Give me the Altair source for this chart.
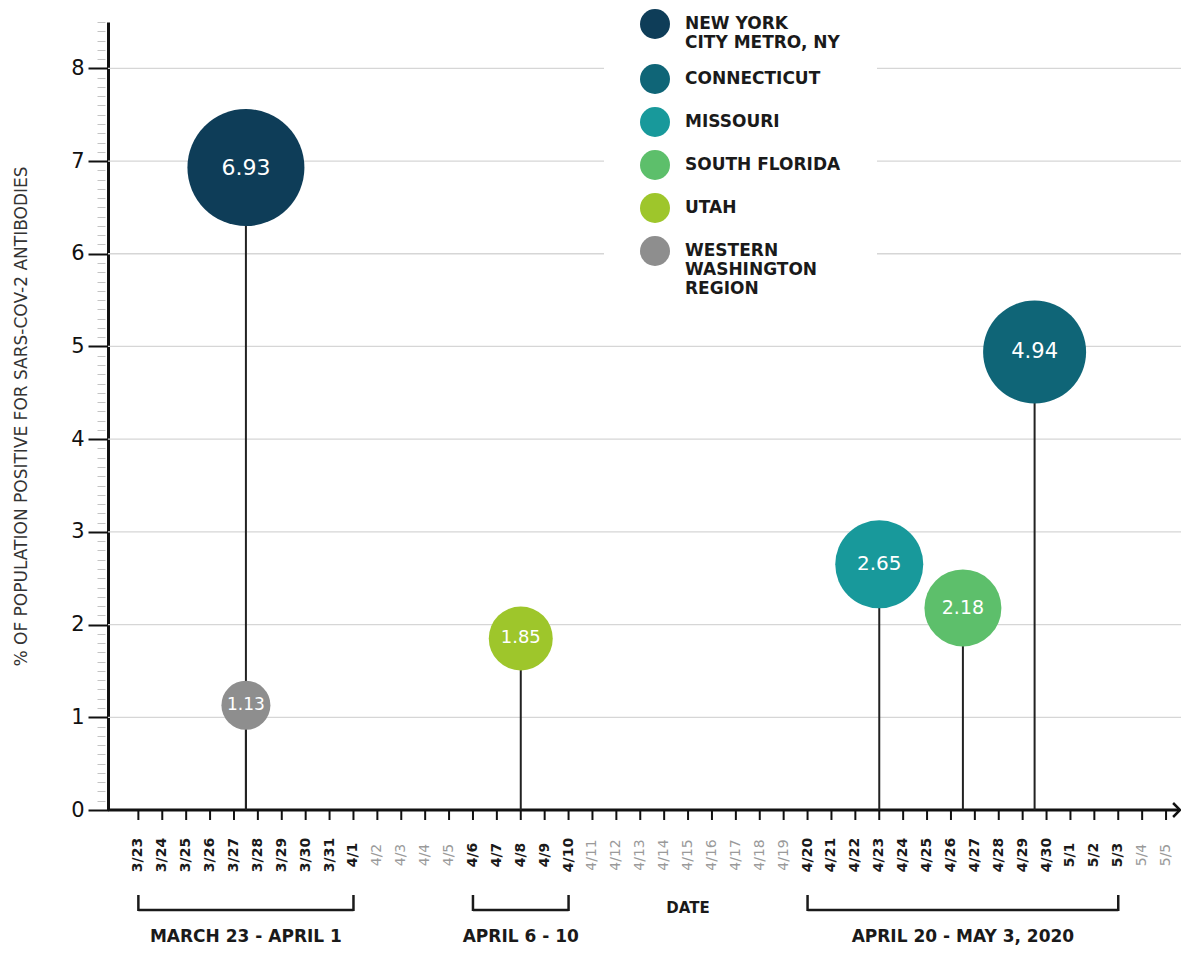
import altair as alt
import pandas as pd

# ---------------- data ----------------
regions = ["NEW YORK\nCITY METRO, NY", "CONNECTICUT", "MISSOURI",
           "SOUTH FLORIDA", "UTAH", "WESTERN\nWASHINGTON\nREGION"]
values = [6.93, 4.94, 2.65, 2.18, 1.85, 1.13]
sample_dates = ["2020-03-27T12:00:00Z", "2020-04-29T12:00:00Z", "2020-04-23T00:00:00Z",
                "2020-04-26T12:00:00Z", "2020-04-08T00:00:00Z", "2020-03-27T12:00:00Z"]
colors = ["#0e3d58", "#0f6577", "#18999b", "#5dbf6b", "#9ec62b", "#8e8e8e"]

bracket_start = ["2020-03-23T00:00:00Z", "2020-04-06T00:00:00Z", "2020-04-20T00:00:00Z"]
bracket_end = ["2020-04-01T00:00:00Z", "2020-04-10T00:00:00Z", "2020-05-03T00:00:00Z"]
bracket_labels = ["MARCH 23 - APRIL 1", "APRIL 6 - 10", "APRIL 20 - MAY 3, 2020"]

y_ticks = [0, 1, 2, 3, 4, 5, 6, 7, 8]
grid_values = [1, 2, 3, 4, 5, 6, 7, 8]
first_day = "2020-03-23"
last_day = "2020-05-05"
x_domain = ["2020-03-21T17:30:00Z", "2020-05-05T12:00:00Z"]
x_title = "DATE"
x_title_date = "2020-04-15T00:00:00Z"
y_title = "% OF POPULATION POSITIVE FOR SARS-COV-2 ANTIBODIES"

FONT = "DejaVu Sans"
W, H = 1070, 788
INK = "#1a1a1a"


def ms(s):
    return int(pd.Timestamp(s).value // 10**6)


day_list = [d.strftime("%Y-%m-%dT00:00:00Z") for d in pd.date_range(first_day, last_day, freq="D")]
minor_ticks = [round(i / 10, 1) for i in range(0, 86) if i % 10 != 0]

df = pd.DataFrame({"region": regions, "value": values, "date": sample_dates})
grid_df = pd.DataFrame({"g": grid_values})
days_df = pd.DataFrame({"date": day_list})
br_df = pd.DataFrame({"start": bracket_start, "end": bracket_end, "label": bracket_labels})
title_df = pd.DataFrame({"label": [x_title], "date": [x_title_date]})

x_scale = alt.Scale(type="utc", domain=[ms(x_domain[0]), ms(x_domain[1])])
y_scale = alt.Scale(domain=[0, 8.5], nice=False, zero=True)

in_window = " || ".join(
    f"(toNumber(toDate(datum.date)) >= {ms(s)} && toNumber(toDate(datum.date)) <= {ms(e)})"
    for s, e in zip(bracket_start, bracket_end)
)


def X(field):
    return alt.X(field, scale=x_scale, axis=None)


def Y(field):
    return alt.Y(field, scale=y_scale, axis=None)


y_axis = alt.Axis(
    values=y_ticks,
    format="d",
    orient="left",
    title=y_title,
    titleFont=FONT,
    titleFontSize=17,
    titleFontWeight="normal",
    titleColor="#333333",
    titlePadding=40,
    labelFont=FONT,
    labelFontSize=21,
    labelFontWeight="normal",
    labelColor="#111111",
    labelPadding=4,
    tickSize=20,
    tickWidth=2,
    tickColor="#111111",
    domainColor="#111111",
    domainWidth=3,
    grid=False,
)

minor_axis = alt.Axis(
    values=minor_ticks,
    orient="left",
    labels=False,
    domain=False,
    grid=False,
    tickSize=8,
    tickWidth=1,
    tickColor="#c4c4c4",
    offset=3,
    title=None,
)

grid = alt.Chart(grid_df).mark_rule(color="#d6d6d6", strokeWidth=1.3).encode(
    x=alt.value(0),
    x2=alt.X2(datum=ms(last_day + "T00:00:00Z")),
    y=alt.Y("g:Q", scale=y_scale, axis=minor_axis),
)

# x axis drawn from the day list
x_line = alt.Chart(grid_df.head(1)).mark_rule(color="#111111", strokeWidth=3).encode(
    x=alt.value(0),
    x2=alt.value(W + 1),
    y=alt.Y(datum=0, scale=y_scale, axis=None),
)
arrow = alt.Chart(grid_df.head(1)).mark_point(
    shape="M -0.7 -1 L 0.3 0 L -0.7 1", filled=False, stroke="#111111",
    strokeWidth=2.5, size=196, opacity=1
).encode(
    x=alt.value(W),
    y=alt.Y(datum=0, scale=y_scale, axis=None),
)
x_ticks = alt.Chart(days_df).mark_rule(color="#111111", strokeWidth=2).encode(
    x=X("date:T"),
    y=alt.value(H),
    y2=alt.value(H + 10),
)
LABEL_Y = H + 45  # centre of the rotated day labels
x_labels_on = alt.Chart(days_df).transform_filter(in_window).transform_calculate(
    lab="utcFormat(toDate(datum.date), '%-m/%-d')"
).mark_text(
    angle=270, align="center", baseline="middle", font=FONT, fontSize=14,
    fontWeight="bold", color=INK
).encode(x=X("date:T"), y=alt.value(LABEL_Y), text="lab:N")
x_labels_off = alt.Chart(days_df).transform_filter(f"!({in_window})").transform_calculate(
    lab="utcFormat(toDate(datum.date), '%-m/%-d')"
).mark_text(
    angle=270, align="center", baseline="middle", font=FONT, fontSize=14,
    fontWeight="normal", color="#9a9a9a"
).encode(x=X("date:T"), y=alt.value(LABEL_Y), text="lab:N")

stems = alt.Chart(df).mark_rule(color="#222222", strokeWidth=2).encode(
    x=X("date:T"),
    y=alt.Y("value:Q", scale=y_scale, axis=y_axis),
    y2=alt.Y2(datum=0),
)

bubbles = alt.Chart(df).transform_window(
    rank="rank()", sort=[alt.SortField("value", order="ascending")]
).mark_circle(opacity=1).encode(
    x=X("date:T"),
    y=Y("value:Q"),
    color=alt.Color(
        "region:N",
        scale=alt.Scale(domain=regions, range=colors),
        legend=alt.Legend(
            title=None,
            orient="none",
            legendX=496,
            legendY=-49,
            fillColor="white",
            padding=36,
            symbolSize=900,
            symbolType="circle",
            symbolStrokeWidth=0,
            symbolOpacity=1,
            labelFont=FONT,
            labelFontSize=17,
            labelFontWeight="bold",
            labelColor=INK,
            labelOffset=15,
            rowPadding=13,
            labelLimit=400,
            labelExpr="split(datum.label, '\\n')",
        ),
    ),
    size=alt.Size(
        "rank:Q",
        scale=alt.Scale(domain=[1, 2, 3, 4, 5, 6], range=[2401, 4096, 5929, 7744, 10609, 13689]),
        legend=None,
    ),
)

labels = alt.Chart(df).transform_window(
    rank="rank()", sort=[alt.SortField("value", order="ascending")]
).mark_text(color="white", font=FONT, align="center", baseline="middle").encode(
    x=X("date:T"),
    y=Y("value:Q"),
    text=alt.Text("value:Q", format=".2f"),
    size=alt.Size("rank:Q", scale=alt.Scale(domain=[1, 6], range=[17, 22]), legend=None),
)

br_line = alt.Chart(br_df).mark_rule(color=INK, strokeWidth=2.5).encode(
    x=X("start:T"),
    x2="end:T",
    y=alt.value(H + 100),
)
br_cap_l = alt.Chart(br_df).mark_rule(color=INK, strokeWidth=2.5).encode(
    x=X("start:T"),
    y=alt.value(H + 85),
    y2=alt.value(H + 101),
)
br_cap_r = alt.Chart(br_df).mark_rule(color=INK, strokeWidth=2.5).encode(
    x=X("end:T"),
    y=alt.value(H + 85),
    y2=alt.value(H + 101),
)
br_text = alt.Chart(br_df).transform_calculate(
    mid="(toNumber(toDate(datum.start)) + toNumber(toDate(datum.end))) / 2"
).mark_text(font=FONT, fontSize=17, fontWeight="bold", color=INK,
            align="center", baseline="middle").encode(
    x=X("mid:T"),
    y=alt.value(H + 127),
    text="label:N",
)
date_title = alt.Chart(title_df).mark_text(
    font=FONT, fontSize=15, fontWeight="bold", color=INK, align="center", baseline="middle"
).encode(
    x=X("date:T"),
    y=alt.value(H + 98),
    text="label:N",
)

chart = alt.layer(
    grid, x_line, x_ticks, x_labels_on, x_labels_off, arrow, stems, bubbles, labels,
    br_line, br_cap_l, br_cap_r, br_text, date_title
).resolve_scale(size="independent").resolve_axis(y="independent").properties(
    width=W,
    height=H,
    autosize=alt.AutoSizeParams(type="none"),
    padding={"left": 100, "top": 14, "right": 3, "bottom": 137},
    background="white",
).configure_view(stroke=None)

chart.save("out.html", embed_options={"renderer": "svg", "actions": False})
